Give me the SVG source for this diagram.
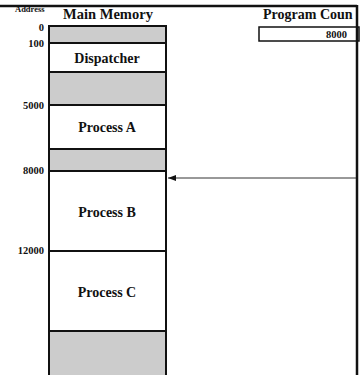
<svg xmlns="http://www.w3.org/2000/svg" width="360" height="375" viewBox="0 0 360 375">
<style>
text{font-family:"Liberation Serif","Times New Roman",serif;font-weight:bold;fill:#111}
.lbl{font-size:14px;text-anchor:middle}
.addr{font-size:10.5px;text-anchor:end}
.cell{stroke:#111;stroke-width:2}
.free{fill:#cccccc}
.used{fill:#ffffff}
</style>
<defs>
<marker id="ah" markerWidth="8" markerHeight="6" refX="8" refY="3" orient="auto" markerUnits="userSpaceOnUse">
<path d="M0,0 L8,3 L0,6 Z" fill="#111"/>
</marker>
</defs>
<rect width="360" height="375" fill="#fff"/>
<line x1="0" y1="6" x2="357" y2="6" stroke="#111" stroke-width="2.5"/>
<text x="15" y="12" style="font-size:8.5px">Address</text>
<text x="108" y="19" style="font-size:14.5px;text-anchor:middle">Main Memory</text>
<text x="263" y="19" style="font-size:14px">Program Coun</text>
<g id="pc">
<rect x="259" y="27" width="100" height="14" fill="#fff" stroke="#111" stroke-width="1.5"/>
<text x="347" y="38" style="font-size:10.5px;text-anchor:end">8000</text>
</g>
<g id="addresses">
<text x="44" y="31" class="addr">0</text>
<text x="44" y="47" class="addr">100</text>
<text x="44" y="109" class="addr">5000</text>
<text x="44" y="174" class="addr">8000</text>
<text x="44" y="254" class="addr">12000</text>
</g>
<g id="free0"><rect class="cell free" x="49" y="26" width="117" height="17"/></g>
<g id="dispatcher"><rect class="cell used" x="49" y="43" width="117" height="29"/><text x="107" y="63" class="lbl">Dispatcher</text></g>
<g id="free1"><rect class="cell free" x="49" y="72" width="117" height="33"/></g>
<g id="processA"><rect class="cell used" x="49" y="105" width="117" height="44"/><text x="107" y="132" class="lbl">Process A</text></g>
<g id="free2"><rect class="cell free" x="49" y="149" width="117" height="22"/></g>
<g id="processB"><rect class="cell used" x="49" y="171" width="117" height="80"/><text x="107" y="217" class="lbl">Process B</text></g>
<g id="processC"><rect class="cell used" x="49" y="251" width="117" height="80"/><text x="107" y="297" class="lbl">Process C</text></g>
<g id="free3"><rect class="cell free" x="49" y="331" width="117" height="48"/></g>
<line x1="357" y1="5" x2="357" y2="375" stroke="#111" stroke-width="2.5"/>
<g id="connectors">
<line x1="356" y1="178" x2="168" y2="178" stroke="#333" stroke-width="1" marker-end="url(#ah)"/>
</g>
</svg>
